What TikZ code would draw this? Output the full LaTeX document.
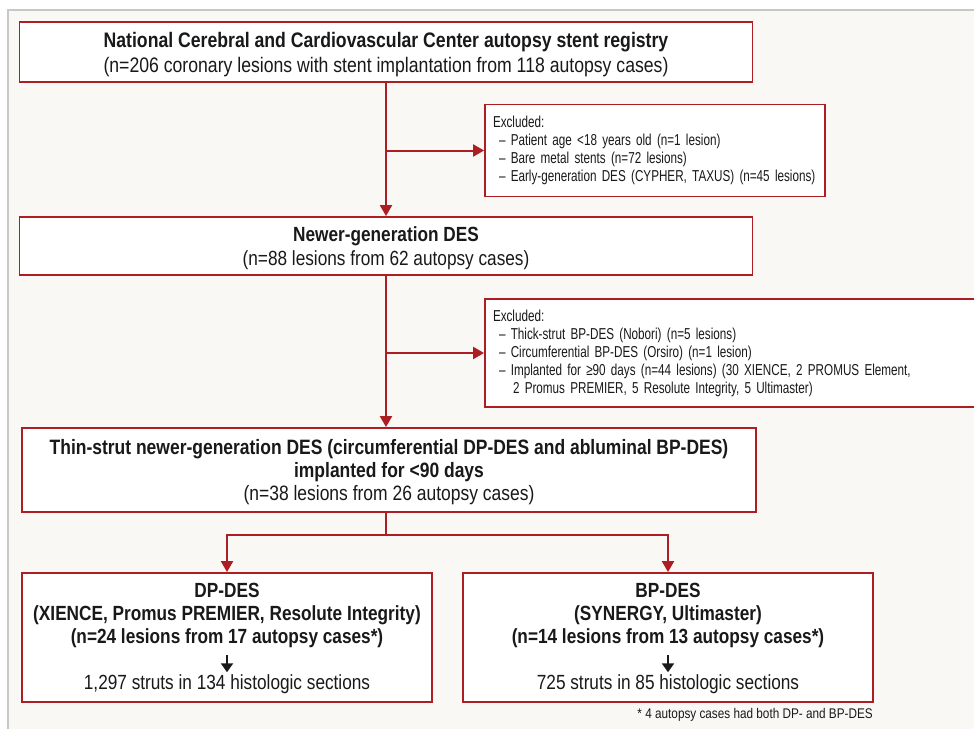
\documentclass[tikz,border=0pt]{standalone}
\usepackage{fontspec}
\setmainfont{Liberation Sans}[FakeStretch=0.84]
\newfontfamily\narrowfont{Liberation Sans}[FakeStretch=0.74,WordSpace=0.9]
\usetikzlibrary{arrows.meta}
\definecolor{regred}{RGB}{172,30,36}
\definecolor{paper}{RGB}{249,248,245}
\definecolor{rim}{RGB}{200,200,200}
\definecolor{ink}{RGB}{25,25,25}

\begin{document}
\begin{tikzpicture}[x=1pt,y=-1pt,
    box/.style={draw=regred,line width=1.8pt,fill=white,inner sep=0pt,align=center,text=ink,text depth=0pt},
    exclbox/.style={draw=regred,line width=1.8pt,fill=white,inner xsep=8pt,inner ysep=0pt,text=ink,
      font=\narrowfont\fontsize{15.8}{18}\selectfont},
    txt/.style={inner sep=2pt,align=center,text=ink,font=\fontsize{20.5}{23}\selectfont},
    flow/.style={draw=regred,line width=2pt,-{Triangle[width=12pt,length=11pt]}},
    stem/.style={draw=ink,line width=2.6pt,-{Triangle[width=12pt,length=9pt]}}]
  \useasboundingbox (0,0) rectangle (974,729);
  % page
  \fill[paper] (8,10) rectangle (974,729);
  \draw[rim,line width=1.5pt] (8,729) -- (8,10) -- (974,10);

  % main column
  \node[box,minimum width=733pt,minimum height=60pt,font=\fontsize{21}{25}\selectfont] (reg) at (386,52)
    {\textbf{National Cerebral and Cardiovascular Center autopsy stent registry}\\
     (n=206 coronary lesions with stent implantation from 118 autopsy cases)};
  \node[box,minimum width=733pt,minimum height=58pt,font=\fontsize{20.5}{24}\selectfont] (newer) at (386,246)
    {\textbf{Newer-generation DES}\\(n=88 lesions from 62 autopsy cases)};
  \node[box,minimum width=734pt,minimum height=84pt,font=\fontsize{20.8}{23}\selectfont] (thin) at (389,470)
    {\textbf{Thin-strut newer-generation DES (circumferential DP-DES and abluminal BP-DES)}\\
     \textbf{implanted for <90 days}\\(n=38 lesions from 26 autopsy cases)};

  % excluded
  \node[exclbox,text width=324pt,minimum height=92pt,align=left] (excl1) at (655,150.5)
    {Excluded:\\
     \hspace*{6pt}– Patient age <18 years old (n=1 lesion)\\
     \hspace*{6pt}– Bare metal stents (n=72 lesions)\\
     \hspace*{6pt}– Early-generation DES (CYPHER, TAXUS) (n=45 lesions)};
  \node[exclbox,text width=475pt,minimum height=108pt,align=left] (excl2) at (730.5,353)
    {Excluded:\\
     \hspace*{6pt}– Thick-strut BP-DES (Nobori) (n=5 lesions)\\
     \hspace*{6pt}– Circumferential BP-DES (Orsiro) (n=1 lesion)\\
     \hspace*{6pt}– Implanted for ≥90 days (n=44 lesions) (30 XIENCE, 2 PROMUS Element,\\
     \hspace*{20pt}2 Promus PREMIER, 5 Resolute Integrity, 5 Ultimaster)};

  % two groups
  \node[box,minimum width=410pt,minimum height=129pt] (dp) at (227,637.5) {};
  \node[box,minimum width=410pt,minimum height=129pt] (bp) at (668,637.5) {};
  \node[txt,font=\bfseries\fontsize{20.5}{23}\selectfont] (dptitle) at (227,615)
    {DP-DES\\(XIENCE, Promus PREMIER, Resolute Integrity)\\(n=24 lesions from 17 autopsy cases*)};
  \node[txt] (dpstruts) at (227,684) {1,297 struts in 134 histologic sections};
  \node[txt,font=\bfseries\fontsize{20.5}{23}\selectfont] (bptitle) at (668,615)
    {BP-DES\\(SYNERGY, Ultimaster)\\(n=14 lesions from 13 autopsy cases*)};
  \node[txt] (bpstruts) at (668,684) {725 struts in 85 histologic sections};
  \draw[stem,shorten <=6pt,shorten >=0pt] (dptitle.south) -- (dpstruts.north);
  \draw[stem,shorten <=6pt,shorten >=0pt] (bptitle.south) -- (bpstruts.north);

  \node[anchor=east,inner sep=0pt,text=ink,font=\fontsize{14}{16}\selectfont] (note) at (873,715)
    {* 4 autopsy cases had both DP- and BP-DES};

  % connectors
  \draw[flow] (reg) -- (newer);
  \draw[flow] (reg.south |- excl1.west) -- (excl1.west);
  \draw[flow] (newer.south) -- (newer.south |- thin.north);
  \draw[flow] (newer.south |- excl2.west) -- (excl2.west);
  \coordinate (split) at (386,535);
  \draw[flow] (split |- thin.south) -- (split) -| (dp.north);
  \draw[flow] (split) -| (bp.north);
\end{tikzpicture}
\end{document}
